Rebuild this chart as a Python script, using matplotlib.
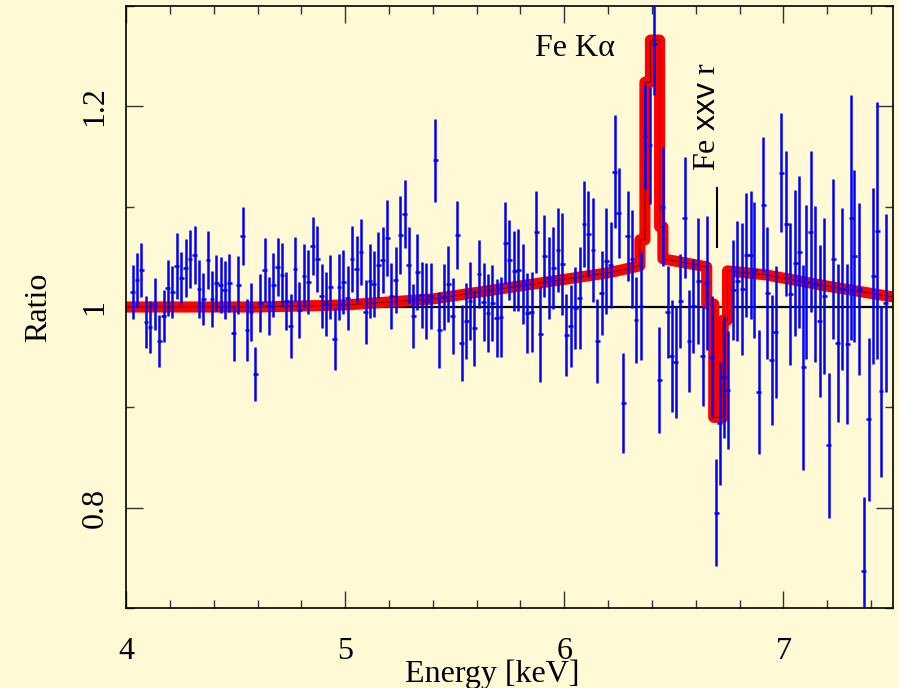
import matplotlib
matplotlib.use('Agg')
import matplotlib.pyplot as plt
from matplotlib.ticker import MultipleLocator, FixedLocator
import numpy as np

# binned data / model ratio
energy = [4.030, 4.050, 4.070, 4.091, 4.109, 4.131, 4.152, 4.172, 4.191, 4.211,
          4.231, 4.252, 4.272, 4.292, 4.313, 4.333, 4.353, 4.374, 4.392, 4.412,
          4.432, 4.451, 4.471, 4.491, 4.512, 4.532, 4.552, 4.570, 4.590,
          4.613, 4.633, 4.652, 4.672, 4.692, 4.712, 4.731, 4.751, 4.771, 4.791,
          4.812, 4.832, 4.851, 4.873, 4.893, 4.912, 4.932, 4.952, 4.972, 4.991,
          5.011, 5.031, 5.052, 5.072, 5.093, 5.113, 5.131, 5.151, 5.171,
          5.192, 5.211, 5.231, 5.251, 5.271, 5.290, 5.310, 5.330, 5.350, 5.371,
          5.391, 5.412, 5.430, 5.450, 5.471, 5.490, 5.511, 5.532, 5.552, 5.570,
          5.590, 5.611, 5.632, 5.652, 5.672, 5.692, 5.711, 5.731, 5.749,
          5.771, 5.791, 5.812, 5.832, 5.851, 5.873, 5.891, 5.909, 5.929, 5.950,
          5.971, 5.990, 6.009, 6.029, 6.050, 6.070, 6.090, 6.110, 6.131, 6.151,
          6.170, 6.192, 6.211, 6.231, 6.249, 6.269, 6.289, 6.309, 6.327,
          6.350, 6.368, 6.391, 6.411, 6.434, 6.449, 6.472, 6.490, 6.509, 6.529,
          6.550, 6.569, 6.588, 6.611, 6.631, 6.649, 6.672, 6.693, 6.710, 6.727,
          6.745, 6.772, 6.790, 6.812, 6.830, 6.850, 6.868, 6.888, 6.908,
          6.926, 6.946, 6.964, 6.990, 7.013, 7.032, 7.054, 7.073, 7.090, 7.104,
          7.124, 7.145, 7.165, 7.186, 7.207, 7.228, 7.248, 7.269, 7.291, 7.309,
          7.323, 7.346, 7.367, 7.389, 7.411, 7.428, 7.445, 7.467]

ratio = [1.015, 1.027, 1.037, 0.985, 0.980, 1.003, 0.966, 0.991, 1.019, 1.015,
         1.041, 1.029, 1.039, 1.048, 1.052, 1.018, 1.008, 1.047, 1.008, 1.024,
         1.022, 1.017, 1.024, 0.974, 1.022, 1.071, 0.977, 0.995, 0.933,
         1.004, 1.037, 1.001, 1.022, 1.040, 1.032, 1.006, 0.981, 1.038, 0.997,
         1.031, 1.025, 1.061, 1.048, 1.011, 1.003, 1.020, 0.968, 1.020, 1.025,
         1.009, 1.048, 1.038, 1.055, 0.995, 1.026, 1.023, 1.042, 1.047,
         1.069, 1.011, 1.027, 1.072, 1.093, 1.042, 0.991, 1.035, 1.012, 1.006,
         1.011, 1.146, 0.977, 1.010, 1.023, 0.991, 1.072, 0.964, 0.986, 1.006,
         0.979, 1.033, 1.005, 0.994, 1.004, 0.989, 0.990, 1.064, 1.047,
         1.036, 1.037, 1.023, 0.994, 0.995, 1.075, 0.973, 1.051, 1.029, 1.039,
         1.057, 1.043, 0.972, 0.981, 0.999, 1.009, 1.083, 1.073, 1.057, 0.966,
         1.014, 1.046, 1.042, 1.135, 1.094, 0.904, 1.071, 1.048, 0.987,
         1.001, 1.170, 1.161, 1.262, 0.927, 1.100, 0.995, 0.951, 0.945, 1.006,
         1.089, 0.966, 1.001, 1.026, 0.951, 1.024, 0.950, 0.795, 0.884, 0.930,
         0.917, 1.017, 1.026, 1.018, 1.052, 1.052, 1.037, 0.915, 1.102,
         1.014, 0.947, 0.975, 1.134, 1.083, 1.013, 1.044, 1.055, 0.940, 1.025,
         1.075, 1.023, 0.986, 1.011, 0.862, 1.048, 0.964, 1.018, 0.963, 1.089,
         1.051, 1.018, 0.737, 0.888, 1.031, 1.076, 0.916, 1.004]

ratio_err = [0.027, 0.027, 0.027, 0.026, 0.026, 0.026, 0.026, 0.026, 0.028, 0.026,
             0.033, 0.026, 0.029, 0.029, 0.029, 0.029, 0.026, 0.029, 0.028, 0.028,
             0.028, 0.029, 0.029, 0.028, 0.029, 0.029, 0.031, 0.029, 0.027,
             0.029, 0.032, 0.029, 0.032, 0.029, 0.032, 0.029, 0.032, 0.032, 0.028,
             0.032, 0.032, 0.029, 0.033, 0.032, 0.032, 0.032, 0.031, 0.033, 0.032,
             0.032, 0.033, 0.033, 0.033, 0.032, 0.037, 0.033, 0.033, 0.033,
             0.038, 0.033, 0.033, 0.039, 0.034, 0.038, 0.032, 0.038, 0.033, 0.038,
             0.033, 0.041, 0.038, 0.033, 0.038, 0.038, 0.034, 0.038, 0.038, 0.039,
             0.038, 0.034, 0.039, 0.039, 0.038, 0.039, 0.040, 0.041, 0.040,
             0.040, 0.041, 0.040, 0.040, 0.040, 0.041, 0.048, 0.041, 0.041, 0.041,
             0.042, 0.051, 0.041, 0.041, 0.041, 0.051, 0.043, 0.043, 0.052, 0.042,
             0.042, 0.053, 0.043, 0.056, 0.045, 0.050, 0.045, 0.049, 0.043,
             0.054, 0.052, 0.058, 0.051, 0.053, 0.059, 0.046, 0.056, 0.056, 0.047,
             0.060, 0.051, 0.047, 0.063, 0.050, 0.067, 0.061, 0.053, 0.061, 0.061,
             0.059, 0.050, 0.060, 0.066, 0.062, 0.064, 0.068, 0.062, 0.067,
             0.066, 0.065, 0.066, 0.059, 0.072, 0.071, 0.073, 0.076, 0.102, 0.077,
             0.080, 0.078, 0.076, 0.078, 0.072, 0.080, 0.079, 0.081, 0.080, 0.122,
             0.086, 0.086, 0.074, 0.081, 0.088, 0.128, 0.085, 0.089]

bin_half = 0.011

# model / continuum ratio (vertices of the stepped model curve)
model_e = [4.00, 4.60, 5.00, 5.40, 5.80, 6.20, 6.345, 6.345, 6.368, 6.368,
           6.393, 6.393, 6.435, 6.435, 6.450, 6.450, 6.650, 6.650, 6.682, 6.682,
           6.725, 6.725, 6.745, 6.745, 6.92, 7.22, 7.50]
model_r = [1.000, 1.000, 1.002, 1.008, 1.021, 1.034, 1.041, 1.067, 1.067, 1.224,
           1.224, 1.266, 1.266, 1.080, 1.080, 1.048, 1.040, 1.003, 1.003, 0.890,
           0.890, 0.987, 0.987, 1.036, 1.032, 1.020, 1.010]

bg = '#fff9d6'
plt.rcParams['font.family'] = ['Liberation Serif', 'DejaVu Serif']
plt.rcParams['mathtext.fontset'] = 'custom'
plt.rcParams['mathtext.sf'] = 'Liberation Sans'
plt.rcParams['mathtext.rm'] = 'Liberation Serif'

fig = plt.figure(figsize=(8.99, 6.88), dpi=100, facecolor=bg)
ax = fig.add_axes([0.1402, 0.1163, 0.8531, 0.875])
ax.set_facecolor(bg)

ax.axhline(1.0, color='black', lw=1.6, zorder=1)
ax.plot(model_e, model_r, color='#ff0000', lw=8, solid_capstyle='round',
        solid_joinstyle='round', zorder=2)
ax.plot(model_e, model_r, color='#660000', lw=0.7, zorder=3)
ax.errorbar(energy, ratio, yerr=ratio_err, xerr=bin_half, fmt='none',
            ecolor='#0000ff', elinewidth=1.8, capsize=0, zorder=4)

ax.set_xlim(4, 7.5)
ax.set_ylim(0.7, 1.3)

ax.xaxis.set_major_locator(MultipleLocator(1))
ax.xaxis.set_minor_locator(MultipleLocator(0.2))
ax.yaxis.set_major_locator(FixedLocator([0.8, 1.0, 1.2]))
ax.yaxis.set_minor_locator(MultipleLocator(0.1))
ax.set_xticks([4, 5, 6, 7])
ax.set_xticklabels(['4', '5', '6', '7'])
ax.set_yticks([0.8, 1.0, 1.2])
ax.set_yticklabels(['0.8', '1', '1.2'], rotation=90, va='center')

ax.tick_params(which='both', direction='in', top=True, right=True,
               color='#333333', width=1)
ax.tick_params(which='major', length=12, labelsize=23)
ax.tick_params(which='minor', length=6)
ax.tick_params(axis='x', which='major', pad=21)
ax.tick_params(axis='y', which='major', pad=12)

for s in ax.spines.values():
    s.set_linewidth(1.2)

ax.set_xlabel('Energy [keV]', fontsize=23)
ax.xaxis.set_label_coords(0.477, -0.085)
ax.set_ylabel('Ratio', fontsize=23, labelpad=20)

ax.text(6.047, 1.258, 'Fe K\u03b1', fontsize=23, ha='center', va='center')
ax.text(6.655, 1.189, r'Fe $\mathsf{xxv}$ r', fontsize=23, ha='center',
        va='center', rotation=90)
ax.plot([6.699, 6.699], [1.060, 1.119], color='black', lw=1.5)

fig.savefig('out.png', dpi=100, facecolor=bg)
